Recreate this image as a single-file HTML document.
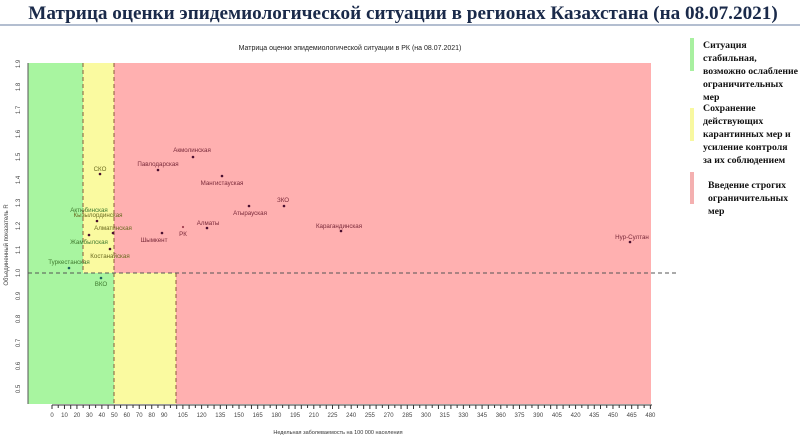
<!DOCTYPE html>
<html><head><meta charset="utf-8"><style>
body{margin:0;width:800px;height:440px;background:#fff;overflow:hidden}
svg text{font-family:"Liberation Sans",sans-serif}
svg text.sf{font-family:"Liberation Serif",serif;font-weight:bold}
</style></head><body>
<svg width="800" height="440" xmlns="http://www.w3.org/2000/svg">
<text class="sf" x="403" y="19" text-anchor="middle" font-size="19.2" fill="#1a2a4a">Матрица оценки эпидемиологической ситуации в регионах Казахстана (на 08.07.2021)</text>
<line x1="0" y1="25" x2="800" y2="25" stroke="#9aa8c0" stroke-width="1.5"/>
<text x="350" y="50" text-anchor="middle" font-size="7" fill="#222">Матрица оценки эпидемиологической ситуации в РК (на 08.07.2021)</text>
<rect x="28" y="63" width="55" height="210" fill="#a8f5a0"/>
<rect x="83" y="63" width="31" height="210" fill="#fafaa0"/>
<rect x="114" y="63" width="537" height="210" fill="#ffb0b0"/>
<rect x="28" y="273" width="86" height="131" fill="#a8f5a0"/>
<rect x="114" y="273" width="62" height="131" fill="#fafaa0"/>
<rect x="176" y="273" width="475" height="131" fill="#ffb0b0"/>
<g stroke="#8a5a3a" stroke-dasharray="4,3" stroke-width="1">
<line x1="83" y1="63" x2="83" y2="273"/>
<line x1="114" y1="63" x2="114" y2="404"/>
<line x1="176" y1="273" x2="176" y2="404"/>
</g>
<line x1="28" y1="273" x2="676" y2="273" stroke="#555" stroke-dasharray="4,3"/>
<line x1="28" y1="63" x2="28" y2="404" stroke="#555"/>
<g font-size="6" fill="#444" text-anchor="middle">
<text transform="translate(20,64) rotate(-90)">1.9</text>
<text transform="translate(20,87) rotate(-90)">1.8</text>
<text transform="translate(20,110) rotate(-90)">1.7</text>
<text transform="translate(20,134) rotate(-90)">1.6</text>
<text transform="translate(20,157) rotate(-90)">1.5</text>
<text transform="translate(20,180) rotate(-90)">1.4</text>
<text transform="translate(20,203) rotate(-90)">1.3</text>
<text transform="translate(20,226) rotate(-90)">1.2</text>
<text transform="translate(20,250) rotate(-90)">1.1</text>
<text transform="translate(20,273) rotate(-90)">1.0</text>
<text transform="translate(20,296) rotate(-90)">0.9</text>
<text transform="translate(20,319) rotate(-90)">0.8</text>
<text transform="translate(20,343) rotate(-90)">0.7</text>
<text transform="translate(20,366) rotate(-90)">0.6</text>
<text transform="translate(20,389) rotate(-90)">0.5</text>
<text transform="translate(8,245) rotate(-90)">Объединенный показатель R</text>
</g>
<line x1="52" y1="405" x2="652" y2="405" stroke="#333"/>
<g id="ticks" stroke="#333"></g>
<g font-size="6" fill="#444" text-anchor="middle" id="xl"></g>
<text x="338" y="434" text-anchor="middle" font-size="5.5" fill="#333">Недельная заболеваемость на 100 000 населения</text>
<g fill="#4a1030" font-size="6.2">
<circle cx="193" cy="157" r="1.3"/><text x="192" y="152" text-anchor="middle" fill="#7a2a3a">Акмолинская</text>
<circle cx="158" cy="170" r="1.3"/><text x="158" y="166" text-anchor="middle" fill="#7a2a3a">Павлодарская</text>
<circle cx="222" cy="176" r="1.3"/><text x="222" y="185" text-anchor="middle" fill="#7a2a3a">Мангистауская</text>
<circle cx="249" cy="206" r="1.3"/><text x="250" y="215" text-anchor="middle" fill="#7a2a3a">Атырауская</text>
<circle cx="284" cy="206" r="1.3"/><text x="283" y="202" text-anchor="middle" fill="#7a2a3a">ЗКО</text>
<circle cx="207" cy="228" r="1.3"/><text x="208" y="225" text-anchor="middle" fill="#7a2a3a">Алматы</text>
<circle cx="183" cy="227" r="1.1" fill="#a04050"/><text x="183" y="236" text-anchor="middle" fill="#7a2a3a">РК</text>
<circle cx="162" cy="233" r="1.3"/><text x="154" y="242" text-anchor="middle" fill="#7a2a3a">Шымкент</text>
<circle cx="341" cy="231" r="1.3"/><text x="339" y="228" text-anchor="middle" fill="#7a2a3a">Карагандинская</text>
<circle cx="630" cy="242" r="1.3"/><text x="632" y="239" text-anchor="middle" fill="#7a2a3a">Нур-Султан</text>
<circle cx="100" cy="174" r="1.3"/><text x="100" y="171" text-anchor="middle" fill="#6a6a20">СКО</text>
<circle cx="97" cy="221" r="1.3"/><text x="89" y="212" text-anchor="middle" fill="#407a30">Актюбинская</text>
<text x="98" y="217" text-anchor="middle" fill="#6a6a20">Кызылординская</text>
<circle cx="89" cy="235" r="1.3"/><text x="89" y="244" text-anchor="middle" fill="#407a30">Жамбылская</text>
<circle cx="113" cy="233" r="1.3"/><text x="113" y="230" text-anchor="middle" fill="#6a6a20">Алматинская</text>
<circle cx="110" cy="249" r="1.3"/><text x="110" y="258" text-anchor="middle" fill="#6a6a20">Костанайская</text>
<circle cx="69" cy="268" r="1.3" fill="#206060"/><text x="69" y="264" text-anchor="middle" fill="#407a30">Туркестанская</text>
<circle cx="101" cy="278" r="1.3" fill="#206060"/><text x="101" y="286" text-anchor="middle" fill="#407a30">ВКО</text>
</g>
<rect x="690" y="38" width="4" height="33" fill="#a8f0a0"/>
<rect x="690" y="108" width="4" height="33" fill="#f8f8a0"/>
<rect x="690" y="172" width="4" height="32" fill="#f4b0b0"/>
<g font-size="9.8" fill="#111">
<text class="sf" x="703" y="48">Ситуация</text><text class="sf" x="703" y="61">стабильная,</text><text class="sf" x="703" y="74">возможно ослабление</text><text class="sf" x="703" y="87">ограничительных</text><text class="sf" x="703" y="100">мер</text>
<text class="sf" x="703" y="111">Сохранение</text><text class="sf" x="703" y="124">действующих</text><text class="sf" x="703" y="137">карантинных мер и</text><text class="sf" x="703" y="150">усиление контроля</text><text class="sf" x="703" y="163">за их соблюдением</text>
<text class="sf" x="708" y="188">Введение строгих</text><text class="sf" x="708" y="201">ограничительных</text><text class="sf" x="708" y="214">мер</text>
</g>
</svg>
<script>
var t=document.getElementById('ticks'),l=document.getElementById('xl'),ns='http://www.w3.org/2000/svg';
function X(v){return 52+1.2466*v}
for(var v=0;v<=480;v+=5){var ln=document.createElementNS(ns,'line');var x=X(v);ln.setAttribute('x1',x);ln.setAttribute('x2',x);ln.setAttribute('y1',405);ln.setAttribute('y2',v%10==0||v%15==0?409:408);t.appendChild(ln);}
var labs=[0,10,20,30,40,50,60,70,80,90];for(v=105;v<=480;v+=15)labs.push(v);
labs.forEach(function(v){var e=document.createElementNS(ns,'text');e.setAttribute('x',X(v));e.setAttribute('y',417);e.textContent=v;l.appendChild(e);});
</script>
</body></html>
